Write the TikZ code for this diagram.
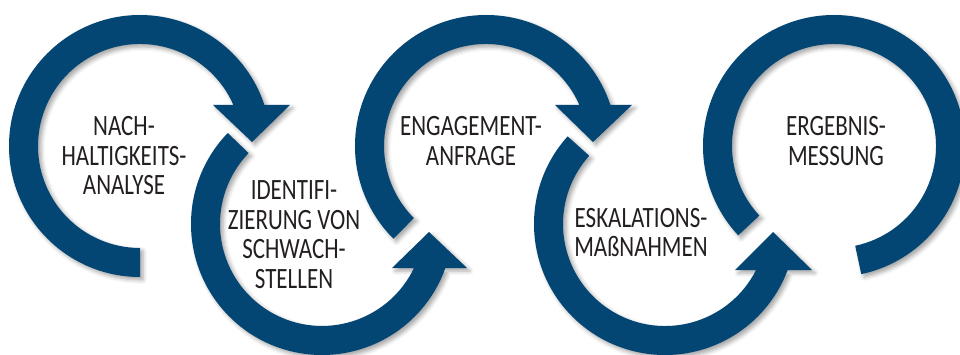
\documentclass[tikz,border=0pt]{standalone}
\usepackage{fontspec}
\setmainfont{Carlito}[FakeStretch=0.78]
\usetikzlibrary{shadows.blur}
\definecolor{ringblue}{RGB}{3,70,116}
\definecolor{textgray}{RGB}{35,31,32}

\begin{document}
\begin{tikzpicture}[x=1pt,y=1pt,
    ring/.style={fill=ringblue,blur shadow={shadow xshift=3pt,shadow yshift=-3pt,shadow blur radius=4pt,shadow opacity=35}},
    ringtext/.style={text=textgray,align=center,font=\fontsize{29.5}{29.5}\selectfont}]
      \useasboundingbox (0,0) rectangle (960,354);
      \coordinate (c1) at (140,208);
      \coordinate (c2) at (322,130);
      \coordinate (c3) at (486,208);
      \coordinate (c4) at (665,130);
      \coordinate (c5) at (834,208);
      \fill [ring] (c1) ++(270:131pt) arc [start angle=270, end angle=18.25, radius=131pt] -- ++(-31pt,0)
            arc [start angle=23.7, end angle=270, radius=102pt] -- cycle
            (213,249) -- (290,249) -- (252,212) -- cycle;
      \fill [ring] (c2) ++(136:131pt) arc [start angle=136, end angle=340.4, radius=131pt] -- ++(-31.4pt,0)
            arc [start angle=334.45, end angle=136, radius=102pt] -- cycle
            (392,86) -- (467,86) -- (429,122) -- cycle;
      \fill [ring] (c3) ++(225:131pt) arc [start angle=225, end angle=18.25, radius=131pt] -- ++(-31pt,0)
            arc [start angle=23.7, end angle=225, radius=102pt] -- cycle
            (555,249) -- (632,249) -- (593,212) -- cycle;
      \fill [ring] (c4) ++(138:131pt) arc [start angle=138, end angle=339.44, radius=131pt] -- ++(-31.6pt,0)
            arc [start angle=333.2, end angle=138, radius=102pt] -- cycle
            (735,84) -- (812,84) -- (773,122) -- cycle;
      \fill [ring] (c5) ++(223:131pt) arc [start angle=223, end angle=-78, radius=131pt] -- ++(-78:-29pt)
            arc [start angle=-78, end angle=223, radius=102pt] -- cycle;
      \node [ringtext] (nach) at (124,198) {NACH-\\HALTIGKEITS-\\ANALYSE};
      \node [ringtext] (ident) at (294,119.5) {IDENTIFI-\\ZIERUNG VON\\SCHWACH-\\STELLEN};
      \node [ringtext] (engage) at (471,213) {ENGAGEMENT-\\ANFRAGE};
      \node [ringtext] (eskal) at (641,121.5) {ESKALATIONS-\\MAßNAHMEN};
      \node [ringtext] (ergeb) at (836,213) {ERGEBNIS-\\MESSUNG};
    \end{tikzpicture}
\end{document}
